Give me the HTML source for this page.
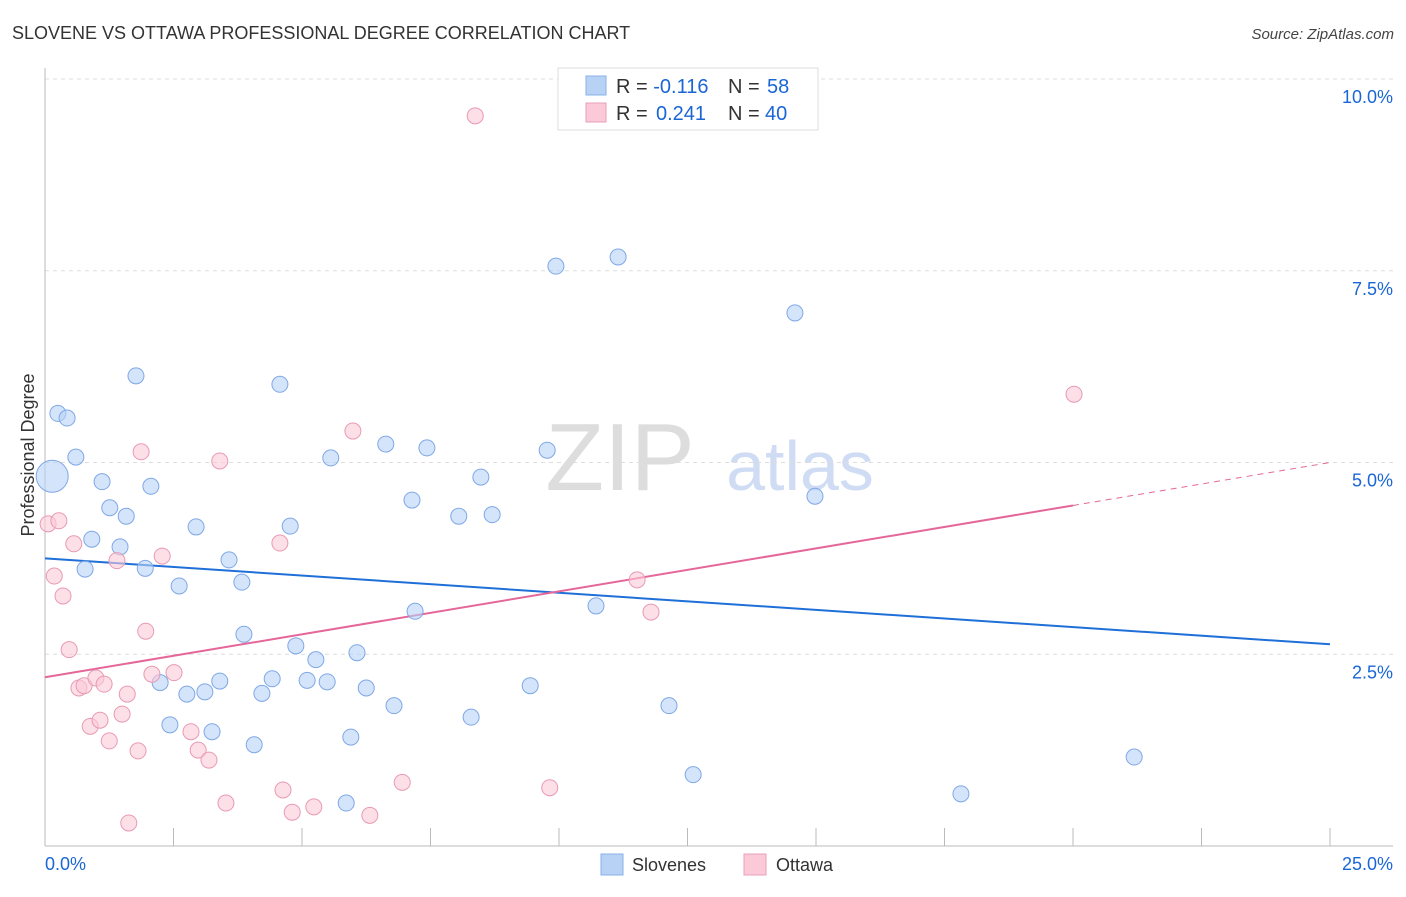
<!DOCTYPE html>
<html><head><meta charset="utf-8"><style>
body{margin:0;background:#fff;font-family:"Liberation Sans",sans-serif;}
svg text{font-family:"Liberation Sans",sans-serif;}
</style></head><body>
<svg id="chart" width="1406" height="892">
<text x="12" y="39" font-size="18" fill="#333">SLOVENE VS OTTAWA PROFESSIONAL DEGREE CORRELATION CHART</text>
<text x="1394" y="39" font-size="15" fill="#444" font-style="italic" text-anchor="end">Source: ZipAtlas.com</text>
<text x="620" y="490" font-size="96" fill="#ddd" font-family="Liberation Serif" text-anchor="middle">ZIP</text>
<text x="800" y="490" font-size="70" fill="#cfdcf3" text-anchor="middle">atlas</text>
<text transform="translate(34,455) rotate(-90)" font-size="18" fill="#333" text-anchor="middle">Professional Degree</text>
<g id="grid"></g><g id="lines"></g><g id="pts"></g>
<g>
<rect x="558" y="68" width="260" height="62" fill="#fff" stroke="#ddd"/>
<rect x="586" y="76" width="20" height="19" fill="#b8d2f6" stroke="#8ab0e8"/>
<rect x="586" y="103" width="20" height="19" fill="#fbc9d8" stroke="#eaa0b8"/>
<text x="616" y="93" font-size="20" fill="#333">R = <tspan fill="#1a66d6">-0.116</tspan><tspan x="728">N = </tspan><tspan fill="#1a66d6" x="767">58</tspan></text>
<text x="616" y="120" font-size="20" fill="#333">R = <tspan fill="#1a66d6" x="656">0.241</tspan><tspan x="728">N = </tspan><tspan fill="#1a66d6" x="765">40</tspan></text>
</g>
<g>
<rect x="601" y="854" width="22" height="21" fill="#b8d2f6" stroke="#8ab0e8"/>
<text x="632" y="871" font-size="18" fill="#333">Slovenes</text>
<rect x="744" y="854" width="22" height="21" fill="#fbc9d8" stroke="#eaa0b8"/>
<text x="776" y="871" font-size="18" fill="#333">Ottawa</text>
</g>
</svg>
<script>
const xTicks=[0,2.5,5,7.5,10,12.5,15,17.5,20,22.5,25];
const yTicks=[2.5,5.0,7.5,10.0];
const blueX=[0.14,0.25,0.43,1.77,4.57,0.60,1.11,1.26,1.58,2.06,0.91,1.46,0.78,1.95,2.61,2.94,3.58,3.83,4.77,5.56,6.63,7.43,7.14,8.48,8.05,8.70,9.77,9.94,11.15,14.59,14.98,7.20,10.72,3.87,4.88,5.27,6.07,2.24,2.76,3.11,3.40,4.22,4.42,5.10,5.49,6.25,6.79,8.29,9.44,12.14,2.43,3.25,4.07,5.95,5.86,12.61,17.82,21.19];
const blueY=[4.82,5.64,5.58,6.13,6.02,5.07,4.75,4.41,4.30,4.69,4.00,3.90,3.61,3.62,3.39,4.16,3.73,3.44,4.17,5.06,5.24,5.19,4.51,4.81,4.30,4.32,5.16,7.56,7.68,6.95,4.56,3.06,3.13,2.76,2.61,2.43,2.52,2.13,1.98,2.01,2.15,1.99,2.18,2.16,2.14,2.06,1.83,1.68,2.09,1.83,1.58,1.49,1.32,1.42,0.56,0.93,0.68,1.16];
const pinkX=[8.37,20.02,5.99,1.87,3.40,0.06,0.27,0.56,0.18,0.35,2.28,4.57,1.40,1.96,0.47,11.52,11.79,0.66,0.76,0.99,1.15,1.60,2.08,2.51,0.88,1.07,1.50,1.25,1.81,2.84,2.98,3.19,3.52,4.63,4.81,5.23,6.32,6.95,9.82,1.63];
const pinkY=[9.52,5.89,5.41,5.14,5.02,4.20,4.24,3.94,3.52,3.26,3.78,3.95,3.72,2.80,2.56,3.47,3.05,2.06,2.09,2.19,2.11,1.98,2.24,2.26,1.56,1.64,1.72,1.37,1.24,1.49,1.25,1.12,0.56,0.73,0.44,0.51,0.40,0.83,0.76,0.30];
const blueTrend=[3.75,2.63];
const pinkTrend=[2.20,5.0];
const NS='http://www.w3.org/2000/svg';
const X=v=>45+v*(1330-45)/25, Y=v=>846-v*76.7;
function mk(tag,attrs,parent){const e=document.createElementNS(NS,tag);for(const k in attrs)e.setAttribute(k,attrs[k]);document.getElementById(parent).appendChild(e);return e;}
yTicks.forEach(t=>{
 const l=mk('line',{x1:45,x2:1393,y1:Y(t),y2:Y(t),stroke:'#ddd','stroke-dasharray':'4,4'},'grid');
 
 
 const tx=mk('text',{x:1393,y:Y(t)+24,'font-size':18,fill:'#1a66d6','text-anchor':'end'},'grid');
 tx.textContent=t.toFixed(1)+'%';
 
 
});
const ya=mk('line',{x1:45,x2:45,y1:68,y2:846,stroke:'#bbb'},'grid');


const xa=mk('line',{x1:45,x2:1393,y1:846,y2:846,stroke:'#bbb'},'grid');


xTicks.forEach(t=>{const l=mk('line',{x1:X(t),x2:X(t),y1:828,y2:846,stroke:'#bbb'},'grid');
 
 });
[[0,'0.0%','start',45],[25,'25.0%','end',1393]].forEach(a=>{const t=mk('text',{x:a[3],y:870,'font-size':18,fill:'#1a66d6','text-anchor':a[2]},'grid');t.textContent=a[1];
 
 });
function pts(xs,ys,fill,stroke,name){xs.forEach((x,i)=>{const c=mk('circle',{cx:X(x),cy:Y(ys[i]),r:(name==='slovene-point'&&i===0)?16:8,fill:fill,stroke:stroke,'stroke-width':1,'fill-opacity':0.6},'pts');
 
 });}
pts(blueX,blueY,'#b8d2f6','#7fa8e6','slovene-point');
pts(pinkX,pinkY,'#fbc9d8','#e89ab4','ottawa-point');
const bl=mk('line',{x1:X(0),y1:Y(blueTrend[0]),x2:X(25),y2:Y(blueTrend[1]),stroke:'#1f6fd8','stroke-width':2},'lines');


const pm=pinkTrend[0]+(pinkTrend[1]-pinkTrend[0])*20/25;
const pl=mk('line',{x1:X(0),y1:Y(pinkTrend[0]),x2:X(20),y2:Y(pm),stroke:'#e5679a','stroke-width':2},'lines');


const pd=mk('line',{x1:X(20),y1:Y(pm),x2:X(25),y2:Y(pinkTrend[1]),stroke:'#e5679a','stroke-width':1,'stroke-dasharray':'6,5'},'lines');


</script>
</body></html>
